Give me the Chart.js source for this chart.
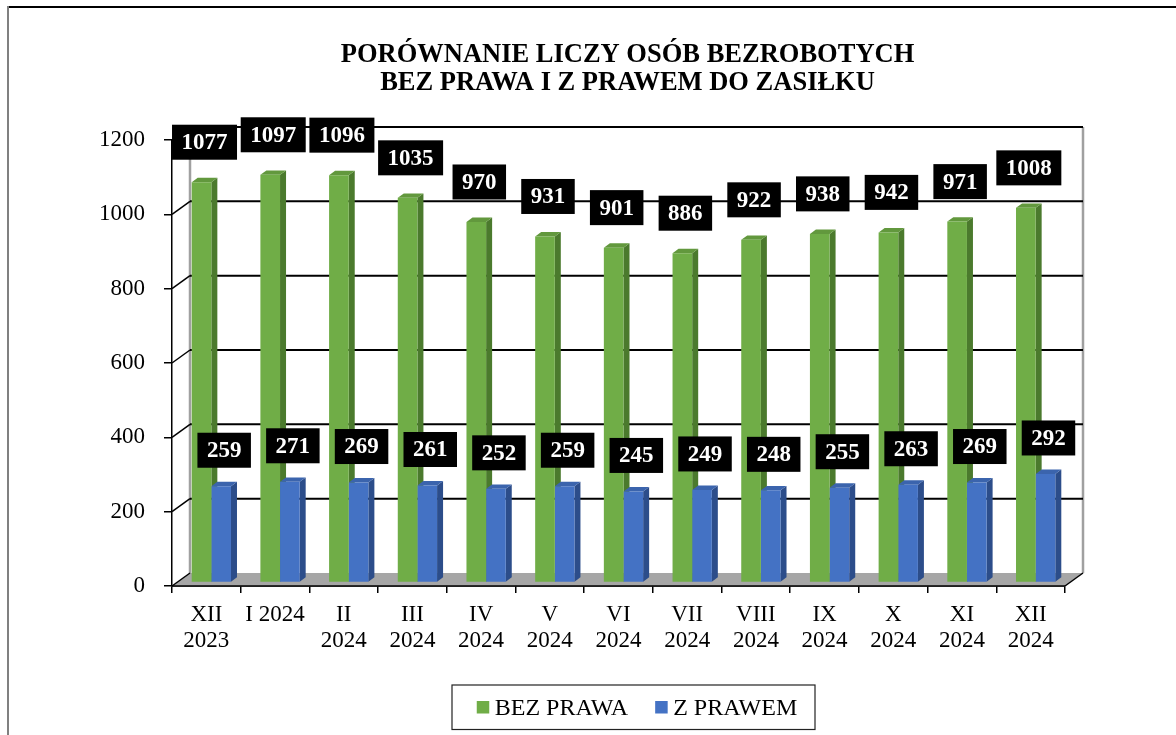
<!DOCTYPE html>
<html lang="pl">
<head>
<meta charset="UTF-8">
<title>Porównanie liczby osób bezrobotnych</title>
<script src="https://cdn.jsdelivr.net/npm/chart.js"></script>
<style>
    body {
        margin: 0;
        background: #fff;
    }

    #wrap {
        width: 1176px;
        height: 735px;
    }
</style>
</head>
<body>
<div id="wrap">
    <canvas id="chart" width="1176" height="735"></canvas>
</div>

<script>
    const months = [['XII', '2023'], 'I 2024', ['II', '2024'], ['III', '2024'], ['IV', '2024'], ['V', '2024'],
        ['VI', '2024'], ['VII', '2024'], ['VIII', '2024'], ['IX', '2024'], ['X', '2024'], ['XI', '2024'], ['XII', '2024']];
    const bezPrawa = [1077, 1097, 1096, 1035, 970, 931, 901, 886, 922, 938, 942, 971, 1008];
    const zPrawem = [259, 271, 269, 261, 252, 259, 245, 249, 248, 255, 263, 269, 292];
    const yTicks = [0, 200, 400, 600, 800, 1000, 1200];
    const titleLines = ['PORÓWNANIE LICZY OSÓB BEZROBOTYCH', 'BEZ PRAWA I Z PRAWEM DO ZASIŁKU'];

    const SERIF = "'Liberation Serif', 'Times New Roman', serif";
    const DEPTH = {x: 18, y: -13};     // głębokość tylnej ściany
    const SHIFT = {x: 5, y: -3.5};     // słupki lekko w głąb
    const BAR_D = {x: 6, y: -4.4};     // grubość słupka

    function poly(ctx, pts) {
        ctx.beginPath();
        ctx.moveTo(pts[0][0], pts[0][1]);
        for (let i = 1; i < pts.length; i++) ctx.lineTo(pts[i][0], pts[i][1]);
        ctx.closePath();
        ctx.fill();
    }

    function line(ctx, pts) {
        ctx.beginPath();
        ctx.moveTo(pts[0][0], pts[0][1]);
        for (let i = 1; i < pts.length; i++) ctx.lineTo(pts[i][0], pts[i][1]);
        ctx.stroke();
    }

    const pseudo3d = {
        id: 'pseudo3d',
        beforeDatasetsDraw(chart) {
            const {ctx, chartArea: a, scales: {y}} = chart;
            const y0 = y.getPixelForValue(0);
            const yTop = y.getPixelForValue(y.max);
            ctx.save();
            // podłoga
            ctx.fillStyle = '#a6a6a6';
            poly(ctx, [[a.left, y0], [a.left + DEPTH.x, y0 + DEPTH.y], [a.right + DEPTH.x, y0 + DEPTH.y], [a.right, y0]]);
            // krawędzie ściany
            ctx.strokeStyle = '#a0a0a0';
            ctx.lineWidth = 2.5;
            line(ctx, [[a.left + DEPTH.x, yTop + DEPTH.y], [a.left + DEPTH.x, y0 + DEPTH.y]]);
            line(ctx, [[a.right + DEPTH.x, yTop + DEPTH.y], [a.right + DEPTH.x, y0 + DEPTH.y]]);
            // linie siatki na ścianie
            ctx.strokeStyle = '#000';
            y.ticks.forEach(t => {
                const py = y.getPixelForValue(t.value);
                ctx.lineWidth = 1.5;
                line(ctx, [[a.left, py], [a.left + DEPTH.x, py + DEPTH.y]]);
                if (t.value !== 0) {
                    ctx.lineWidth = 2;
                    line(ctx, [[a.left + DEPTH.x, py + DEPTH.y], [a.right + DEPTH.x, py + DEPTH.y]]);
                }
            });
            ctx.lineWidth = 1.5;
            line(ctx, [[a.right, y0], [a.right + DEPTH.x, y0 + DEPTH.y]]);
            line(ctx, [[a.left, y0], [a.right, y0]]);
            ctx.restore();

            // boki i wierzch słupków
            ctx.save();
            ctx.translate(SHIFT.x, SHIFT.y);
            chart.data.datasets.forEach((ds, i) => {
                chart.getDatasetMeta(i).data.forEach(bar => {
                    const {x, y: top, base, width} = bar.getProps(['x', 'y', 'base', 'width'], true);
                    const l = x - width / 2, r = x + width / 2;
                    ctx.fillStyle = ds.sideColor;
                    poly(ctx, [[r, top], [r + BAR_D.x, top + BAR_D.y], [r + BAR_D.x, base + BAR_D.y], [r, base]]);
                    ctx.fillStyle = ds.topColor;
                    poly(ctx, [[l, top], [l + BAR_D.x, top + BAR_D.y], [r + BAR_D.x, top + BAR_D.y], [r, top]]);
                });
            });
            // zostaje przesunięte na czas rysowania słupków
        },
        afterDatasetsDraw(chart) {
            chart.ctx.restore();
        },
        afterDraw(chart) {
            const {ctx} = chart;
            ctx.save();

            // etykiety wartości
            ctx.font = 'bold 23px ' + SERIF;
            ctx.textAlign = 'center';
            ctx.textBaseline = 'middle';
            chart.data.datasets.forEach((ds, i) => {
                chart.getDatasetMeta(i).data.forEach((bar, j) => {
                    const {x, y: top} = bar.getProps(['x', 'y'], true);
                    const txt = String(ds.data[j]);
                    const cx = x + SHIFT.x + BAR_D.x / 2;
                    const cy = top + SHIFT.y - ds.labelGap;
                    const w = ctx.measureText(txt).width + 19;
                    ctx.fillStyle = '#000';
                    ctx.fillRect(cx - w / 2, cy - 17.5, w, 35);
                    ctx.fillStyle = '#fff';
                    ctx.fillText(txt, cx, cy + 1);
                });
            });

            // tytuł
            ctx.fillStyle = '#000';
            ctx.font = 'bold 26.5px ' + SERIF;
            ctx.textBaseline = 'alphabetic';
            ctx.fillText(titleLines[0], 627.5, 62);
            ctx.fillText(titleLines[1], 627.5, 90);

            // legenda
            ctx.font = '24px ' + SERIF;
            ctx.textAlign = 'left';
            const items = chart.data.datasets.map(ds => ({
                label: ds.label, color: ds.backgroundColor, w: 18 + ctx.measureText(ds.label).width
            }));
            const gap = 27;
            const total = items.reduce((s, it) => s + it.w, 0) + gap * (items.length - 1);
            let lx = 637 - total / 2;
            ctx.strokeStyle = '#222';
            ctx.lineWidth = 1.2;
            ctx.strokeRect(452, 685, 363, 44.5);
            items.forEach(it => {
                ctx.fillStyle = it.color;
                ctx.fillRect(lx, 701, 12.5, 12.5);
                ctx.fillStyle = '#000';
                ctx.fillText(it.label, lx + 18, 715);
                lx += it.w + gap;
            });

            // ramka
            ctx.strokeStyle = '#000';
            ctx.lineWidth = 2;
            line(ctx, [[8, 7], [1176, 7]]);
            ctx.strokeStyle = '#808080';
            line(ctx, [[8, 6], [8, 735]]);
            ctx.restore();
        }
    };

    new Chart(document.getElementById('chart'), {
        type: 'bar',
        data: {
            labels: months,
            datasets: [{
                label: 'BEZ PRAWA',
                data: bezPrawa,
                backgroundColor: '#70ad47',
                sideColor: '#4b7a2d',
                topColor: '#62983d',
                labelGap: 40
            }, {
                label: 'Z PRAWEM',
                data: zPrawem,
                backgroundColor: '#4472c4',
                sideColor: '#2c4d8a',
                topColor: '#3b64ad',
                labelGap: 36
            }]
        },
        options: {
            responsive: false,
            animation: false,
            devicePixelRatio: 1,
            layout: {padding: {top: 140, left: 0, right: 111, bottom: 49}},
            datasets: {bar: {categoryPercentage: 0.572, barPercentage: 1, borderWidth: 0}},
            scales: {
                x: {
                    afterFit: s => { s.height = 100; },
                    grid: {drawOnChartArea: false, drawTicks: true, tickLength: 7, color: '#000', lineWidth: 1.5, offset: true},
                    border: {display: true, color: '#000', width: 1.5},
                    ticks: {
                        color: '#000', padding: 8, maxRotation: 0, autoSkip: false,
                        font: {family: SERIF, size: 23, lineHeight: 1.17}
                    }
                },
                y: {
                    min: 0,
                    max: yTicks[yTicks.length - 1],
                    afterFit: s => { s.width = 172; },
                    afterBuildTicks: s => { s.ticks = yTicks.map(v => ({value: v})); },
                    grid: {drawOnChartArea: false, drawTicks: true, tickLength: 8, color: '#000', lineWidth: 1.5},
                    border: {display: true, color: '#000', width: 1.5},
                    ticks: {
                        color: '#000', padding: 19, font: {family: SERIF, size: 23},
                        callback: v => String(v)
                    }
                }
            },
            plugins: {
                legend: {display: false},
                title: {display: false},
                tooltip: {enabled: false}
            }
        },
        plugins: [pseudo3d]
    });
</script>
</body>
</html>
